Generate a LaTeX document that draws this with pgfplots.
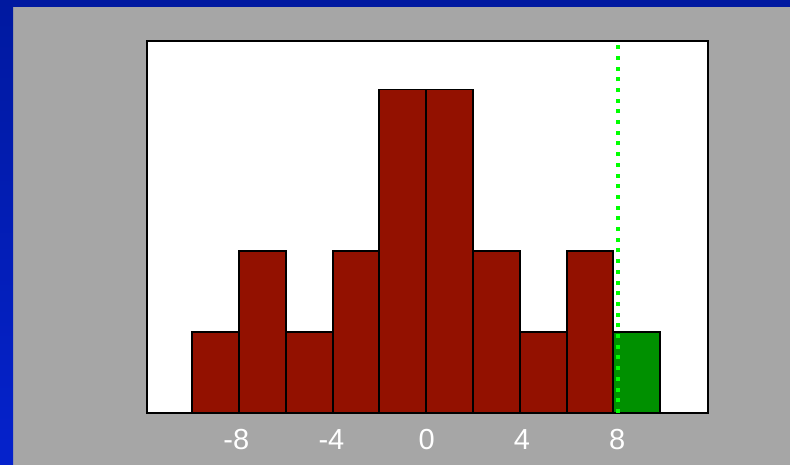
\documentclass[border=0pt]{standalone}
\usepackage{pgfplots}
\pgfplotsset{compat=1.18}
\usepackage{fontspec}
\setmainfont{Liberation Sans}
\definecolor{bgGray}{HTML}{A6A6A6}
\definecolor{barRed}{HTML}{931100}
\definecolor{barGreen}{HTML}{009000}
\definecolor{lineGreen}{HTML}{00FF00}
\definecolor{blueTop}{HTML}{0019A0}
\definecolor{blueBot}{HTML}{0522CC}
\begin{document}
\begin{tikzpicture}[x=1pt,y=1pt]
\useasboundingbox (0,0) rectangle (790,465);
\fill[bgGray] (0,0) rectangle (790,465);
\shade[top color=blueTop, bottom color=blueBot] (0,0) rectangle (13,465);
\fill[blueTop] (0,458) rectangle (790,465);
\begin{axis}[
  at={(147pt,52pt)}, anchor=south west,
  scale only axis, width=561pt, height=372pt,
  xmin=-11.75, xmax=11.82, ymin=0, ymax=4.6,
  axis background/.style={fill=white},
  axis line style={line width=2pt, black},
  xtick={-8,-4,0,4,8},
  xticklabels={-8,-4,0,4,8},
  ytick=\empty,
  major tick length=0pt,
  xticklabel style={text=white, font=\fontsize{29}{31}\selectfont, inner sep=0pt, anchor=north},
  x tick label style={yshift=-16pt},
]
\addplot[ybar, bar width=1.966, bar shift=0pt, fill=barRed, draw=black, line width=1.9pt] coordinates {
(-8.867,1) (-6.901,2) (-4.935,1) (-2.969,2) (-1.003,4) (0.963,4) (2.929,2) (4.895,1) (6.861,2)
};
\addplot[ybar, bar width=1.966, bar shift=0pt, fill=barGreen, draw=black, line width=1.9pt] coordinates {
(8.827,1)
};
\addplot[lineGreen, line width=4pt, dash pattern=on 4pt off 6.7pt] coordinates {(8.03,0) (8.03,4.6)};
\end{axis}
\end{tikzpicture}
\end{document}
